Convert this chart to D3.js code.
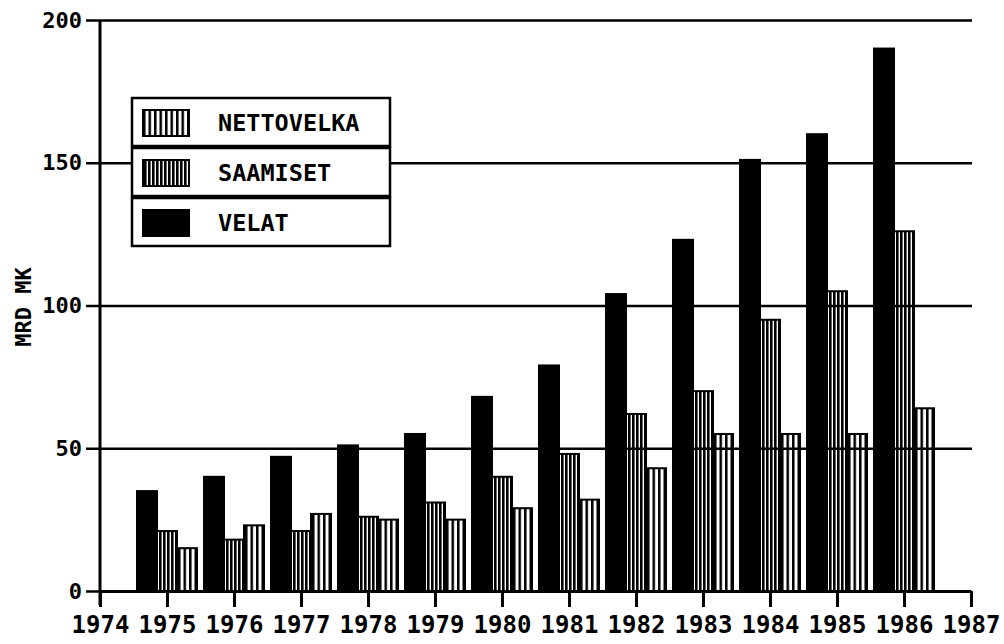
<!DOCTYPE html>
<html>
<head>
<meta charset="utf-8">
<script src="https://cdn.jsdelivr.net/npm/d3@7"></script>
<style>
  html, body { margin: 0; padding: 0; background: #fff; }
  svg { display: block; font-family: "DejaVu Sans Mono", monospace; }
</style>
</head>
<body>
<div id="chart"></div>
<script>
// values, mrd mk
const years = [1975, 1976, 1977, 1978, 1979, 1980, 1981, 1982, 1983, 1984, 1985, 1986];
const velat = [35, 40, 47, 51, 55, 68, 79, 104, 123, 151, 160, 190];
const saamiset = [21, 18, 21, 26, 31, 40, 48, 62, 70, 95, 105, 126];
const nettovelka = [15, 23, 27, 25, 25, 29, 32, 43, 55, 55, 55, 64];
const seriesNames = ["VELAT", "SAAMISET", "NETTOVELKA"];
const legendOrder = ["NETTOVELKA", "SAAMISET", "VELAT"];
const yTicks = [0, 50, 100, 150, 200];
const xTicks = [1974, 1975, 1976, 1977, 1978, 1979, 1980, 1981, 1982, 1983, 1984, 1985, 1986, 1987];

const width = 1004,
  height = 644,
  x = d3.scaleLinear().domain([1974, 1987]).range([100, 971]),
  y = d3.scaleLinear().domain([0, 200]).range([591, 20]),
  sub = d3.scaleBand().domain(seriesNames).range([-30, 30]).paddingInner(0);

const fills = { VELAT: "#000", SAAMISET: "url(#saam)", NETTOVELKA: "url(#netto)" };

const svg = d3.select("#chart").append("svg").attr("width", width).attr("height", height);

// stripe patterns
const defs = svg.append("defs");
function stripes(id, w, black) {
  const p = defs.append("pattern").attr("id", id).attr("patternUnits", "userSpaceOnUse")
    .attr("width", w).attr("height", 10);
  p.append("rect").attr("width", w).attr("height", 10).attr("fill", "#fff");
  p.append("rect").attr("width", black).attr("height", 10).attr("fill", "#000");
}
stripes("netto", 5.5, 2.5);
stripes("saam", 4, 2.6);

// bars
const rows = years.map((yr, i) => ({ year: yr, VELAT: velat[i], SAAMISET: saamiset[i], NETTOVELKA: nettovelka[i] }));
svg.append("g").classed("bars", true)
  .selectAll("g")
  .data(rows)
  .join("g")
  .attr("transform", (d) => `translate(${x(d.year)},0)`)
  .selectAll("rect")
  .data((d) => seriesNames.map((k) => ({ key: k, value: d[k] })))
  .join("rect")
  .attr("x", (d) => sub(d.key))
  .attr("width", sub.bandwidth())
  .attr("y", (d) => y(d.value))
  .attr("height", (d) => y(0) - y(d.value))
  .attr("fill", (d) => fills[d.key])
  .attr("stroke", "#000")
  .attr("stroke-width", 2);

// gridlines
svg.append("g").classed("grid", true)
  .attr("transform", `translate(${x.range()[0]},0)`)
  .call(d3.axisLeft(y).tickValues(yTicks.slice(1)).tickSize(-(x.range()[1] - x.range()[0] + 1)).tickFormat(""))
  .call((g) => g.select(".domain").remove())
  .selectAll("line").attr("stroke", "#000").attr("stroke-width", 2.5);

// y axis
const yAxis = svg.append("g")
  .attr("transform", `translate(${x.range()[0]},0)`)
  .call(d3.axisLeft(y).tickValues(yTicks).tickSizeInner(14).tickSizeOuter(0).tickPadding(4));
yAxis.select(".domain").remove();
yAxis.selectAll("line").attr("stroke", "#000").attr("stroke-width", 2.5);
yAxis.selectAll("text").attr("font-family", "DejaVu Sans Mono").attr("font-weight", "bold")
  .attr("font-size", 22).attr("fill", "#000");
yAxis.append("line").attr("x1", 0).attr("x2", 0).attr("y1", y(200)).attr("y2", y(0) + 14)
  .attr("stroke", "#000").attr("stroke-width", 3);

// x axis
const xAxis = svg.append("g")
  .attr("transform", `translate(0,${y(0)})`)
  .call(d3.axisBottom(x).tickValues(xTicks).tickFormat(d3.format("d")).tickSizeInner(16).tickSizeOuter(0));
xAxis.select(".domain").attr("stroke", "#000").attr("stroke-width", 3);
xAxis.selectAll("line").attr("stroke", "#000").attr("stroke-width", 3);
xAxis.selectAll("text").attr("dy", null).attr("y", 42)
  .attr("font-family", "DejaVu Sans Mono").attr("font-weight", "bold")
  .attr("font-size", 24).attr("fill", "#000");

// y label
svg.append("text")
  .attr("transform", `translate(31,307) rotate(-90)`)
  .attr("text-anchor", "middle")
  .attr("font-size", 22)
  .attr("font-weight", "bold")
  .attr("fill", "#000")
  .text("MRD MK");

// legend
const legend = svg.append("g").classed("legend", true).attr("transform", "translate(132,98)");
const item = legend.selectAll("g")
  .data(legendOrder)
  .join("g")
  .attr("transform", (d, i) => `translate(0,${i * 50})`);
item.append("rect").attr("width", 258).attr("height", 48)
  .attr("fill", "#fff").attr("stroke", "#000").attr("stroke-width", 2.5);
item.append("rect").attr("x", 11).attr("y", 12).attr("width", 46).attr("height", 26)
  .attr("fill", (d) => fills[d]).attr("stroke", "#000").attr("stroke-width", 2);
item.append("text").attr("x", 86).attr("y", 33)
  .attr("font-size", 23.5).attr("font-weight", "bold").attr("fill", "#000")
  .text((d) => d);
</script>
</body>
</html>
